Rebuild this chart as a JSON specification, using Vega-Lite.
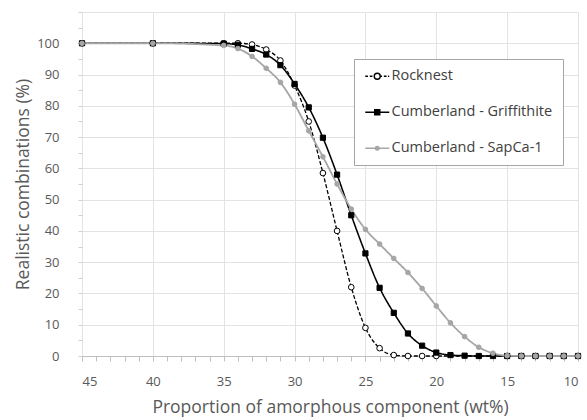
{
  "$schema": "https://vega.github.io/schema/vega-lite/v6.json",
  "width": 496,
  "height": 344,
  "autosize": {"type": "none"},
  "padding": {"left": 82, "top": 12, "right": 9, "bottom": 64},
  "background": "white",
  "config": {"view": {"stroke": null}, "font": "Open Sans"},
  "data": {"values": [
    {"series": "Rocknest", "amorphous": 45, "pct": 100},
    {"series": "Rocknest", "amorphous": 40, "pct": 100},
    {"series": "Rocknest", "amorphous": 35, "pct": 100},
    {"series": "Rocknest", "amorphous": 34, "pct": 100},
    {"series": "Rocknest", "amorphous": 33, "pct": 99.6},
    {"series": "Rocknest", "amorphous": 32, "pct": 98},
    {"series": "Rocknest", "amorphous": 31, "pct": 94.5},
    {"series": "Rocknest", "amorphous": 30, "pct": 86.5},
    {"series": "Rocknest", "amorphous": 29, "pct": 75},
    {"series": "Rocknest", "amorphous": 28, "pct": 58.5},
    {"series": "Rocknest", "amorphous": 27, "pct": 40},
    {"series": "Rocknest", "amorphous": 26, "pct": 22},
    {"series": "Rocknest", "amorphous": 25, "pct": 9},
    {"series": "Rocknest", "amorphous": 24, "pct": 2.5},
    {"series": "Rocknest", "amorphous": 23, "pct": 0.3},
    {"series": "Rocknest", "amorphous": 22, "pct": 0},
    {"series": "Rocknest", "amorphous": 21, "pct": 0},
    {"series": "Rocknest", "amorphous": 20, "pct": 0},
    {"series": "Rocknest", "amorphous": 15, "pct": 0},
    {"series": "Rocknest", "amorphous": 14, "pct": 0},
    {"series": "Rocknest", "amorphous": 13, "pct": 0},
    {"series": "Rocknest", "amorphous": 12, "pct": 0},
    {"series": "Rocknest", "amorphous": 11, "pct": 0},
    {"series": "Rocknest", "amorphous": 10, "pct": 0},
    {"series": "Cumberland - Griffithite", "amorphous": 45, "pct": 100},
    {"series": "Cumberland - Griffithite", "amorphous": 40, "pct": 100},
    {"series": "Cumberland - Griffithite", "amorphous": 35, "pct": 99.9},
    {"series": "Cumberland - Griffithite", "amorphous": 34, "pct": 99.5},
    {"series": "Cumberland - Griffithite", "amorphous": 33, "pct": 98.2},
    {"series": "Cumberland - Griffithite", "amorphous": 32, "pct": 96.4},
    {"series": "Cumberland - Griffithite", "amorphous": 31, "pct": 93},
    {"series": "Cumberland - Griffithite", "amorphous": 30, "pct": 87},
    {"series": "Cumberland - Griffithite", "amorphous": 29, "pct": 79.5},
    {"series": "Cumberland - Griffithite", "amorphous": 28, "pct": 69.8},
    {"series": "Cumberland - Griffithite", "amorphous": 27, "pct": 58},
    {"series": "Cumberland - Griffithite", "amorphous": 26, "pct": 45},
    {"series": "Cumberland - Griffithite", "amorphous": 25, "pct": 32.8},
    {"series": "Cumberland - Griffithite", "amorphous": 24, "pct": 21.8},
    {"series": "Cumberland - Griffithite", "amorphous": 23, "pct": 13.8},
    {"series": "Cumberland - Griffithite", "amorphous": 22, "pct": 7.2},
    {"series": "Cumberland - Griffithite", "amorphous": 21, "pct": 3.3},
    {"series": "Cumberland - Griffithite", "amorphous": 20, "pct": 1.1},
    {"series": "Cumberland - Griffithite", "amorphous": 19, "pct": 0.3},
    {"series": "Cumberland - Griffithite", "amorphous": 18, "pct": 0.1},
    {"series": "Cumberland - Griffithite", "amorphous": 17, "pct": 0},
    {"series": "Cumberland - Griffithite", "amorphous": 16, "pct": 0},
    {"series": "Cumberland - Griffithite", "amorphous": 15, "pct": 0},
    {"series": "Cumberland - Griffithite", "amorphous": 14, "pct": 0},
    {"series": "Cumberland - Griffithite", "amorphous": 13, "pct": 0},
    {"series": "Cumberland - Griffithite", "amorphous": 12, "pct": 0},
    {"series": "Cumberland - Griffithite", "amorphous": 11, "pct": 0},
    {"series": "Cumberland - Griffithite", "amorphous": 10, "pct": 0},
    {"series": "Cumberland - SapCa-1", "amorphous": 45, "pct": 100},
    {"series": "Cumberland - SapCa-1", "amorphous": 40, "pct": 100},
    {"series": "Cumberland - SapCa-1", "amorphous": 35, "pct": 99.3},
    {"series": "Cumberland - SapCa-1", "amorphous": 34, "pct": 98.3},
    {"series": "Cumberland - SapCa-1", "amorphous": 33, "pct": 95.8},
    {"series": "Cumberland - SapCa-1", "amorphous": 32, "pct": 92},
    {"series": "Cumberland - SapCa-1", "amorphous": 31, "pct": 87.5},
    {"series": "Cumberland - SapCa-1", "amorphous": 30, "pct": 80.5},
    {"series": "Cumberland - SapCa-1", "amorphous": 29, "pct": 72},
    {"series": "Cumberland - SapCa-1", "amorphous": 28, "pct": 63.7},
    {"series": "Cumberland - SapCa-1", "amorphous": 27, "pct": 55},
    {"series": "Cumberland - SapCa-1", "amorphous": 26, "pct": 47},
    {"series": "Cumberland - SapCa-1", "amorphous": 25, "pct": 40.5},
    {"series": "Cumberland - SapCa-1", "amorphous": 24, "pct": 35.8},
    {"series": "Cumberland - SapCa-1", "amorphous": 23, "pct": 31.2},
    {"series": "Cumberland - SapCa-1", "amorphous": 22, "pct": 26.7},
    {"series": "Cumberland - SapCa-1", "amorphous": 21, "pct": 21.6},
    {"series": "Cumberland - SapCa-1", "amorphous": 20, "pct": 16},
    {"series": "Cumberland - SapCa-1", "amorphous": 19, "pct": 10.6},
    {"series": "Cumberland - SapCa-1", "amorphous": 18, "pct": 6.2},
    {"series": "Cumberland - SapCa-1", "amorphous": 17, "pct": 2.8},
    {"series": "Cumberland - SapCa-1", "amorphous": 16, "pct": 0.9},
    {"series": "Cumberland - SapCa-1", "amorphous": 15, "pct": 0.1},
    {"series": "Cumberland - SapCa-1", "amorphous": 14, "pct": 0},
    {"series": "Cumberland - SapCa-1", "amorphous": 13, "pct": 0},
    {"series": "Cumberland - SapCa-1", "amorphous": 12, "pct": 0},
    {"series": "Cumberland - SapCa-1", "amorphous": 11, "pct": 0},
    {"series": "Cumberland - SapCa-1", "amorphous": 10, "pct": 0}
  ]},
  "encoding": {
    "x": {
      "field": "amorphous", "type": "quantitative",
      "scale": {"domain": [10, 45], "reverse": true, "nice": false, "zero": false},
      "axis": {
        "title": "Proportion of amorphous component (wt%)",
        "values": [10,11,12,13,14,15,16,17,18,19,20,21,22,23,24,25,26,27,28,29,30,31,32,33,34,35,36,37,38,39,40,41,42,43,44,45],
        "labelExpr": "datum.value % 5 === 0 ? datum.label : ''",
        "labelOverlap": false,
        "labelFontSize": 13, "labelColor": "#595959", "labelPadding": 14,
        "tickSize": 5, "tickColor": "#bfbfbf",
        "domainColor": "#bfbfbf",
        "grid": true, "gridColor": "#e3e3e3",
        "gridOpacity": {"condition": {"test": "datum.value % 5 === 0", "value": 1}, "value": 0},
        "titleFontSize": 17.5, "titleFontWeight": "normal", "titleColor": "#595959", "titlePadding": 10
      }
    },
    "y": {
      "field": "pct", "type": "quantitative",
      "scale": {"domain": [0, 110], "nice": false},
      "axis": {
        "title": "Realistic combinations (%)",
        "values": [0,5,10,15,20,25,30,35,40,45,50,55,60,65,70,75,80,85,90,95,100,105,110],
        "labelExpr": "datum.value % 10 === 0 && datum.value <= 100 ? datum.label : ''",
        "labelOverlap": false,
        "labelFontSize": 13, "labelColor": "#595959", "labelPadding": 19,
        "tickSize": 4, "tickColor": "#d0d0d0",
        "domain": false,
        "grid": true, "gridColor": "#e3e3e3",
        "gridOpacity": {"condition": {"test": "datum.value % 10 === 0", "value": 1}, "value": 0},
        "titleFontSize": 17.5, "titleFontWeight": "normal", "titleColor": "#595959", "titlePadding": 4
      }
    }
  },
  "layer": [
    {
      "mark": {"type": "line", "interpolate": "monotone"},
      "encoding": {
        "order": {"field": "amorphous", "sort": "descending"},
        "color": {"field": "series", "type": "nominal",
          "scale": {"domain": ["Rocknest", "Cumberland - Griffithite", "Cumberland - SapCa-1"], "range": ["#000000", "#000000", "#a6a6a6"]},
          "legend": null},
        "strokeDash": {"field": "series", "type": "nominal",
          "scale": {"domain": ["Rocknest", "Cumberland - Griffithite", "Cumberland - SapCa-1"], "range": [[4, 2], [1, 0], [1, 0]]},
          "legend": null},
        "strokeWidth": {"field": "series", "type": "nominal",
          "scale": {"domain": ["Rocknest", "Cumberland - Griffithite", "Cumberland - SapCa-1"], "range": [1.3, 1.8, 1.6]},
          "legend": null}
      }
    },
    {
      "mark": {"type": "point", "filled": false, "strokeWidth": 1, "opacity": 1},
      "encoding": {
        "shape": {"field": "series", "type": "nominal",
          "scale": {"domain": ["Rocknest", "Cumberland - Griffithite", "Cumberland - SapCa-1"], "range": ["circle", "square", "circle"]},
          "legend": null},
        "fill": {"field": "series", "type": "nominal",
          "scale": {"domain": ["Rocknest", "Cumberland - Griffithite", "Cumberland - SapCa-1"], "range": ["#ffffff", "#000000", "#a6a6a6"]},
          "legend": null},
        "stroke": {"field": "series", "type": "nominal",
          "scale": {"domain": ["Rocknest", "Cumberland - Griffithite", "Cumberland - SapCa-1"], "range": ["#000000", "#000000", "#a6a6a6"]},
          "legend": null},
        "size": {"field": "series", "type": "nominal",
          "scale": {"domain": ["Rocknest", "Cumberland - Griffithite", "Cumberland - SapCa-1"], "range": [32, 22, 14]},
          "legend": null}
      }
    },
    {
      "mark": {"type": "point", "filled": true, "opacity": 0},
      "encoding": {
        "shape": {"field": "series", "type": "nominal",
          "scale": {"domain": ["Rocknest", "Cumberland - Griffithite", "Cumberland - SapCa-1"],
            "range": [
              "M-2,0H-1.55M-1.25,0H-0.8M-0.5,0H-0.5M0.5,0H0.8M1.1,0H1.55M1.8,0H2M-0.5,0A0.5,0.5 0 1,0 0.5,0A0.5,0.5 0 1,0 -0.5,0Z",
              "M-2,0H2M-0.42,-0.42H0.42V0.42H-0.42Z",
              "M-2,0H2M-0.3,0A0.3,0.3 0 1,0 0.3,0A0.3,0.3 0 1,0 -0.3,0Z"
            ]},
          "legend": {
            "title": null,
            "orient": "none", "legendX": 272, "legendY": 47,
            "direction": "vertical",
            "strokeColor": "#a6a6a6", "fillColor": "#ffffff",
            "padding": 10,
            "labelFontSize": 14.5, "labelColor": "#404040", "labelFont": "Open Sans", "labelLimit": 300,
            "symbolSize": 144, "symbolStrokeWidth": 1.4, "symbolOpacity": 1,
            "symbolOffset": 6, "labelOffset": 7, "rowPadding": 21
          }},
        "fill": {"field": "series", "type": "nominal",
          "scale": {"domain": ["Rocknest", "Cumberland - Griffithite", "Cumberland - SapCa-1"], "range": ["#ffffff", "#000000", "#a6a6a6"]}},
        "stroke": {"field": "series", "type": "nominal",
          "scale": {"domain": ["Rocknest", "Cumberland - Griffithite", "Cumberland - SapCa-1"], "range": ["#000000", "#000000", "#a6a6a6"]}}
      }
    }
  ],
  "resolve": {"scale": {"color": "independent", "fill": "independent", "stroke": "independent", "shape": "independent", "size": "independent", "strokeDash": "independent", "strokeWidth": "independent"}}
}
